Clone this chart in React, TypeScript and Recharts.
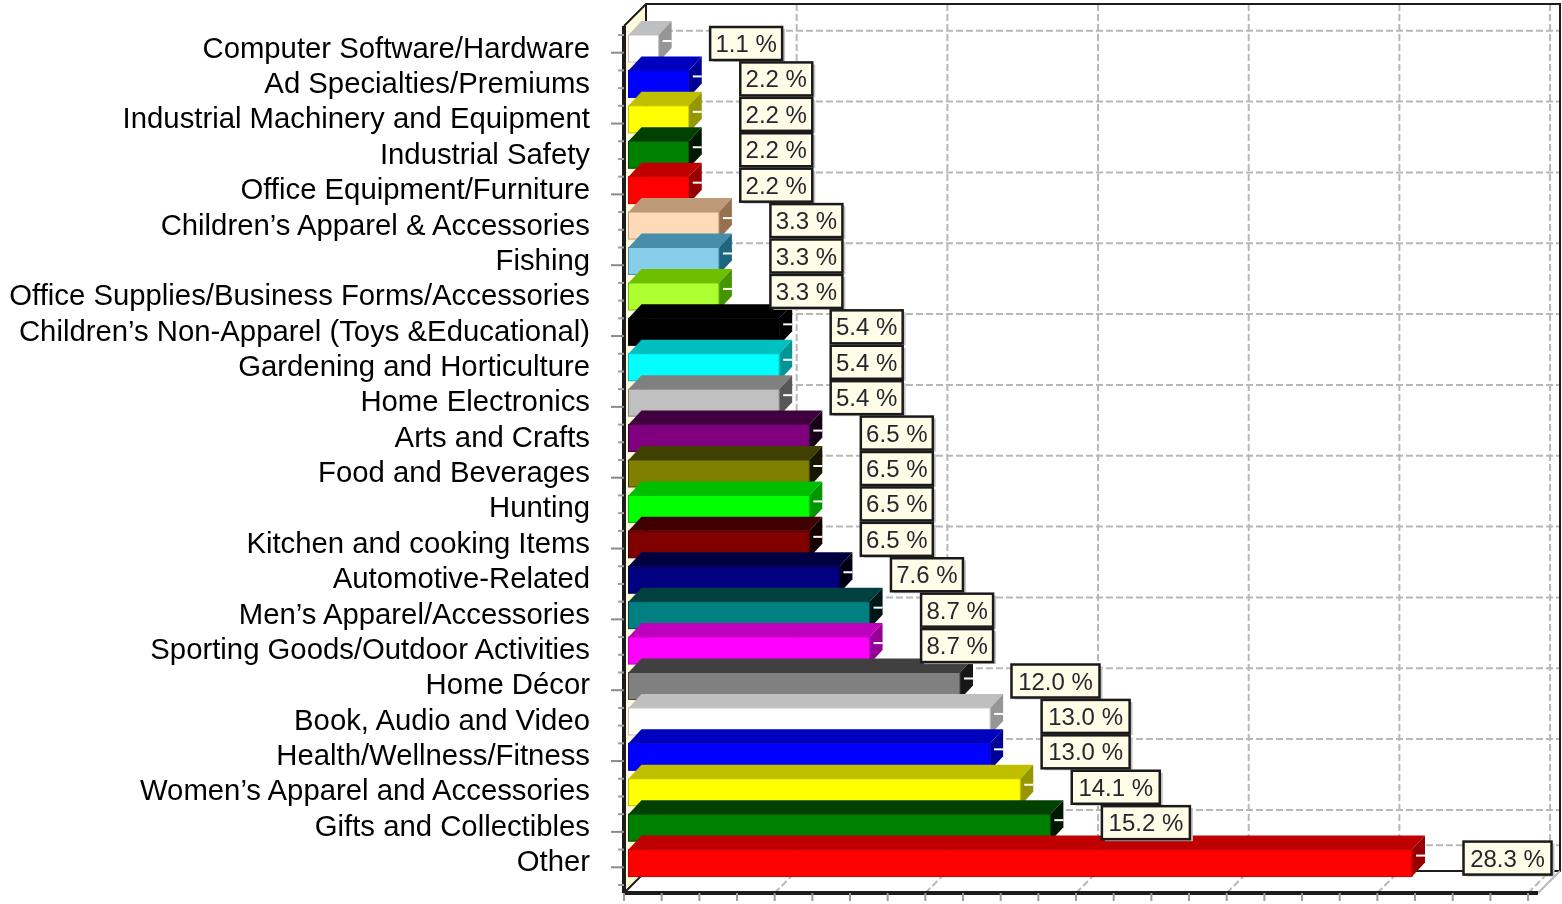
import React from "react";
import { Bar, BarChart, LabelList, ReferenceLine, XAxis, YAxis } from "recharts";

const categories = [
  "Computer Software/Hardware",
  "Ad Specialties/Premiums",
  "Industrial Machinery and Equipment",
  "Industrial Safety",
  "Office Equipment/Furniture",
  "Children’s Apparel & Accessories",
  "Fishing",
  "Office Supplies/Business Forms/Accessories",
  "Children’s Non-Apparel (Toys &Educational)",
  "Gardening and Horticulture",
  "Home Electronics",
  "Arts and Crafts",
  "Food and Beverages",
  "Hunting",
  "Kitchen and cooking Items",
  "Automotive-Related",
  "Men’s Apparel/Accessories",
  "Sporting Goods/Outdoor Activities",
  "Home Décor",
  "Book, Audio and Video",
  "Health/Wellness/Fitness",
  "Women’s Apparel and Accessories",
  "Gifts and Collectibles",
  "Other",
];

// bar lengths are response counts, the labels show them as a percentage
const counts = [1, 2, 2, 2, 2, 3, 3, 3, 5, 5, 5, 6, 6, 6, 6, 7, 8, 8, 11, 12, 12, 13, 14, 26];

const percents = [
  "1.1 %", "2.2 %", "2.2 %", "2.2 %", "2.2 %", "3.3 %", "3.3 %", "3.3 %",
  "5.4 %", "5.4 %", "5.4 %", "6.5 %", "6.5 %", "6.5 %", "6.5 %", "7.6 %",
  "8.7 %", "8.7 %", "12.0 %", "13.0 %", "13.0 %", "14.1 %", "15.2 %", "28.3 %",
];

const colors = [
  [255, 255, 255], [0, 0, 255], [255, 255, 0], [0, 128, 0], [255, 0, 0],
  [255, 218, 185], [135, 206, 235], [173, 255, 47], [0, 0, 0], [0, 255, 255],
  [192, 192, 192], [128, 0, 128], [128, 128, 0], [0, 255, 0], [128, 0, 0],
  [0, 0, 128], [0, 128, 128], [255, 0, 255], [128, 128, 128], [255, 255, 255],
  [0, 0, 255], [255, 255, 0], [0, 128, 0], [255, 0, 0],
];

const gridX = [0, 5, 10, 15, 20, 25, 30];
const tickX = [
  0, 1.25, 2.5, 3.75, 5, 6.25, 7.5, 8.75, 10, 11.25, 12.5, 13.75, 15, 16.25, 17.5,
  18.75, 20, 21.25, 22.5, 23.75, 25, 26.25, 27.5, 28.75, 30,
];
const gridCategories = categories.filter((_, i) => i % 2 === 0 || i === categories.length - 1);

const data = categories.map((name, i) => ({ name, count: counts[i], label: percents[i] }));

const WIDTH = 1562;
const HEIGHT = 904;
const LEFT = 624;
const TOP = 26;
const BOTTOM = 893;
const RIGHT = 1538;
const DEPTH = 22;
const GRID = "#b8b8b8";
const FRAME = "#1c1c1c";

const rgb = (c: number[], minus = 0) =>
  `rgb(${c.map((v) => Math.max(0, v - minus)).join(",")})`;

// front face, top face and side face of one bar
const Bar3D = (props: any) => {
  const { x, y, width, height, index } = props;
  const c = colors[index];
  const fx = x + 4.5;
  const fy = y - 4;
  const dx = 13;
  const dy = 14;
  const r = fx + width;
  const b = fy + height;
  return (
    <g>
      <polygon
        points={`${fx},${fy} ${fx + dx},${fy - dy} ${r + dx},${fy - dy} ${r},${fy}`}
        fill={rgb(c, 64)}
      />
      <polygon
        points={`${r},${fy} ${r + dx},${fy - dy} ${r + dx},${b - dy} ${r},${b}`}
        fill={rgb(c, 105)}
      />
      <rect x={fx} y={fy} width={width} height={height} fill={rgb(c)} stroke={rgb(c, 64)} strokeWidth={1} />
      <line x1={r + 4} y1={fy + 6} x2={r + dx} y2={fy + 6} stroke="#ffffff" strokeWidth={2} />
    </g>
  );
};

const PercentBox = (props: any) => {
  const { x, y, width, height, value } = props;
  const left = x + width + 56;
  const cy = y + height / 2 - 8.5;
  const w = String(value).length > 5 ? 88 : 72;
  return (
    <g>
      <rect x={left + 3} y={cy - 15} width={w} height={33} fill="#c4c4c4" />
      <rect x={left} y={cy - 17} width={w} height={33} fill="#fffde8" stroke="#1a1a1a" strokeWidth={2.5} />
      <text
        x={left + w / 2}
        y={cy - 0.5}
        textAnchor="middle"
        dominantBaseline="central"
        fontFamily="Liberation Sans"
        fontSize={24}
        fill="#26262e"
      >
        {value}
      </text>
    </g>
  );
};

const CategoryTick = (props: any) => {
  const { y, payload, index } = props;
  const major = gridCategories.includes(payload.value);
  return (
    <g>
      <line x1={LEFT - (major ? 13 : 6)} y1={y} x2={LEFT} y2={y} stroke={major ? "#8a8a8a" : "#a0a0a0"} strokeWidth={2} />
      <line x1={LEFT - 6} y1={y + 17.7} x2={LEFT} y2={y + 17.7} stroke="#a0a0a0" strokeWidth={2} />
      {index === 0 && <line x1={LEFT - 6} y1={y - 17.7} x2={LEFT} y2={y - 17.7} stroke="#a0a0a0" strokeWidth={2} />}
      <text
        x={590}
        y={y - 5.5 - index * 0.05}
        textAnchor="end"
        dominantBaseline="central"
        fontFamily="Liberation Sans"
        fontSize={29.3}
        fill="#000000"
      >
        {payload.value}
      </text>
    </g>
  );
};

// grid lines sit on the back wall, so they are pushed back by the chart depth
const VerticalGrid = (props: any) => {
  const { x1, y1, x2, y2 } = props;
  const low = Math.max(y1, y2);
  return (
    <g stroke={GRID} strokeWidth={2} strokeDasharray="7 3" fill="none">
      <line x1={x1 + DEPTH} y1={y1 - DEPTH} x2={x2 + DEPTH} y2={y2 - DEPTH} />
      {x1 > LEFT + 1 && <line x1={x1} y1={low} x2={x1 + DEPTH} y2={low - DEPTH} />}
    </g>
  );
};

const HorizontalGrid = (props: any) => {
  const { x1, y1, x2, y2 } = props;
  return (
    <line
      x1={x1 + DEPTH}
      y1={y1 - DEPTH}
      x2={x2 + DEPTH}
      y2={y2 - DEPTH}
      stroke={GRID}
      strokeWidth={2}
      strokeDasharray="7 3"
    />
  );
};

export default function App() {
  return (
    <div
      style={{
        position: "absolute",
        left: 0,
        top: 0,
        width: WIDTH,
        height: HEIGHT,
        overflow: "hidden",
        filter: "blur(0.6px)",
      }}
    >
      <BarChart
        width={WIDTH}
        height={HEIGHT}
        data={data}
        layout="vertical"
        margin={{ top: TOP, right: WIDTH - RIGHT, bottom: 0, left: 0 }}
      >
        {gridX.map((v) => (
          <ReferenceLine key={v} x={v} shape={VerticalGrid} zIndex={-100} ifOverflow="visible" />
        ))}
        {gridCategories.map((c) => (
          <ReferenceLine key={c} y={c} shape={HorizontalGrid} zIndex={-100} ifOverflow="visible" />
        ))}
        <g>
          <polygon
            points={`${LEFT},${TOP} ${LEFT + DEPTH},${TOP - DEPTH} ${LEFT + DEPTH},${BOTTOM - DEPTH} ${LEFT},${BOTTOM}`}
            fill="#fffbdc"
          />
          <polyline
            points={`${LEFT},${TOP} ${LEFT + DEPTH},${TOP - DEPTH} ${RIGHT + DEPTH},${TOP - DEPTH} ${RIGHT + DEPTH},${BOTTOM - DEPTH} ${LEFT + DEPTH},${BOTTOM - DEPTH} ${LEFT},${BOTTOM}`}
            fill="none"
            stroke={FRAME}
            strokeWidth={2}
          />
          <line x1={LEFT + DEPTH} y1={TOP - DEPTH} x2={LEFT + DEPTH} y2={BOTTOM - DEPTH} stroke={FRAME} strokeWidth={2} />
          <line x1={RIGHT} y1={BOTTOM} x2={RIGHT + DEPTH} y2={BOTTOM - DEPTH} stroke={GRID} strokeWidth={2} />
        </g>
        <XAxis
          type="number"
          domain={[0, 30.33]}
          ticks={tickX}
          interval={0}
          height={HEIGHT - BOTTOM}
          tickSize={8}
          tickFormatter={() => ""}
          axisLine={{ stroke: FRAME, strokeWidth: 4 }}
          tickLine={{ stroke: "#9a9a9a", strokeWidth: 2 }}
        />
        <YAxis
          type="category"
          dataKey="name"
          width={LEFT}
          interval={0}
          padding={{ top: 9, bottom: 8 }}
          tick={CategoryTick}
          tickLine={false}
          axisLine={{ stroke: FRAME, strokeWidth: 4 }}
        />
        <Bar dataKey="count" barSize={27} shape={Bar3D} isAnimationActive={false}>
          <LabelList dataKey="label" content={PercentBox} />
        </Bar>
      </BarChart>
    </div>
  );
}
